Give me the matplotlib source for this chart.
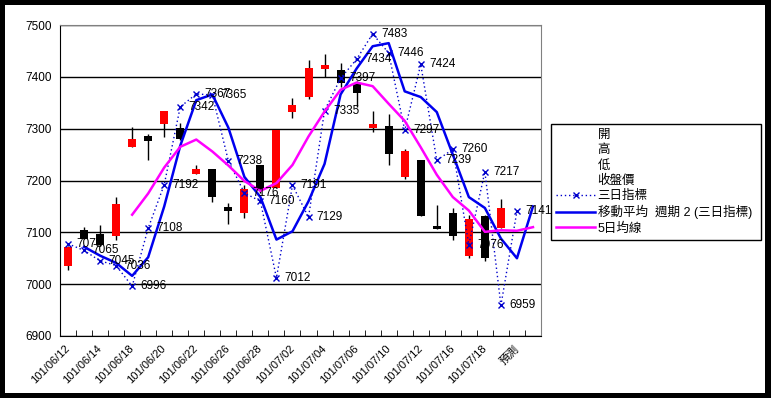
import numpy as np
import matplotlib
matplotlib.use('Agg')
import matplotlib.pyplot as plt
import matplotlib.transforms as mtransforms
from matplotlib.lines import Line2D
from matplotlib.patches import Rectangle

plt.rcParams['font.family'] = ['Liberation Sans', 'Noto Sans CJK TC', 'DejaVu Sans']

# 日期 (30 categories, last two are the forecast slots)
dates = ['101/06/12', '101/06/13', '101/06/14', '101/06/15', '101/06/18', '101/06/19',
         '101/06/20', '101/06/21', '101/06/22', '101/06/25', '101/06/26', '101/06/27',
         '101/06/28', '101/06/29', '101/07/02', '101/07/03', '101/07/04', '101/07/05',
         '101/07/06', '101/07/09', '101/07/10', '101/07/11', '101/07/12', '101/07/13',
         '101/07/16', '101/07/17', '101/07/18', '101/07/19', '預測', '']

# K線 開 高 低 收
opens  = [7036, 7104, 7097, 7093, 7264, 7286, 7309, 7301, 7212, 7222, 7148, 7138, 7230, 7185,
          7333, 7362, 7415, 7413, 7387, 7301, 7305, 7207, 7240, 7113, 7137, 7055, 7132, 7109]
highs  = [7074, 7110, 7114, 7168, 7304, 7290, 7335, 7310, 7230, 7222, 7157, 7191, 7230, 7297,
          7359, 7432, 7444, 7426, 7391, 7334, 7328, 7261, 7240, 7153, 7146, 7133, 7134, 7164]
lows   = [7027, 7088, 7074, 7085, 7264, 7240, 7283, 7279, 7212, 7158, 7117, 7128, 7175, 7185,
          7320, 7357, 7399, 7381, 7341, 7294, 7229, 7203, 7131, 7106, 7085, 7050, 7045, 7109]
closes = [7072, 7088, 7076, 7155, 7281, 7276, 7335, 7281, 7222, 7169, 7141, 7184, 7182, 7297,
          7346, 7418, 7423, 7389, 7369, 7309, 7252, 7257, 7131, 7106, 7092, 7126, 7051, 7147]

# 三日指標 (k0..k28)
idx3 = [7078, 7065, 7045, 7036, 6996, 7108, 7192, 7342, 7367, 7365, 7238, 7176, 7160, 7012,
        7191, 7129, 7335, 7397, 7434, 7483, 7446, 7297, 7424, 7239, 7260, 7076, 7217, 6959, 7141]

# 移動平均 週期 2 (k1..k29)
ma2 = [7072, 7055, 7041, 7016, 7052, 7150, 7267, 7355, 7366, 7302, 7207, 7168, 7086, 7102,
       7160, 7232, 7366, 7416, 7459, 7465, 7372, 7361, 7332, 7250, 7168, 7147, 7088, 7050, 7150]

# 5日均線 (k4..k29)
ma5 = [7134, 7175, 7225, 7265, 7279, 7256, 7229, 7199, 7180, 7195, 7230, 7285, 7333, 7375,
       7389, 7382, 7348, 7315, 7264, 7211, 7168, 7142, 7101, 7104, 7103, 7110]

W, H = 771, 398
fig = plt.figure(figsize=(W / 100, H / 100), dpi=100)
fig.patch.set_facecolor('black')
fig.patches.append(Rectangle((5 / W, 5 / H), 760 / W, 388 / H, transform=fig.transFigure,
                             facecolor='white', edgecolor='none', zorder=-5))

ax = fig.add_axes([60 / W, 62 / H, 481 / W, 311 / H])
ax.set_facecolor('white')

o = np.array(opens)
c = np.array(closes)
xk = np.arange(len(opens))

# wicks then bodies
ax.vlines(xk, lows, highs, color='black', lw=1, zorder=2)
body_col = ['#FF0000' if cc >= oo else 'black' for oo, cc in zip(o, c)]
ax.bar(xk, np.maximum(np.abs(c - o), 1.5), bottom=np.minimum(o, c), width=0.5,
       color=body_col, zorder=3)

x3 = np.arange(len(idx3))
ax.plot(x3, idx3, color='#0000CC', lw=1, linestyle=(0, (1, 2)), marker='x',
        markersize=5, markeredgewidth=1, zorder=4)
ax.plot(np.arange(1, 1 + len(ma2)), ma2, color='#0000EE', lw=1.8, zorder=5)
ax.plot(np.arange(4, 4 + len(ma5)), ma5, color='#FF00FF', lw=1.8, zorder=5)

for i, v in enumerate(idx3):
    ax.annotate(str(v), (i, v), xytext=(6, 0), textcoords='offset points',
                ha='left', va='center', fontsize=8.5, zorder=6)

ax.set_xlim(-0.5, len(dates) - 0.5)
ax.set_ylim(6900, 7500)
ax.set_yticks(range(6900, 7501, 100))
ax.tick_params(axis='y', labelsize=8.5, length=0, pad=6)
ax.yaxis.grid(True, color='black', lw=1)
ax.set_axisbelow(True)

ax.set_xticks(range(0, len(dates), 2))
ax.set_xticklabels(dates[::2], rotation=45, ha='right', va='center',
                   rotation_mode='anchor', fontsize=8)
shift = mtransforms.ScaledTranslation(-5 / 100, 0, fig.dpi_scale_trans)
for lab in ax.get_xticklabels():
    lab.set_transform(lab.get_transform() + shift)
ax.set_xticks(np.arange(-0.5, len(dates), 1), minor=True)
ax.tick_params(axis='x', which='major', length=0, pad=8)
ax.tick_params(axis='x', which='minor', direction='in', length=4)

for s in ['top', 'right']:
    ax.spines[s].set_color('#808080')
for s in ['left', 'bottom']:
    ax.spines[s].set_color('black')

handles = [Line2D([], [], linestyle='none') for _ in range(4)]
handles += [Line2D([], [], color='#0000CC', lw=1, linestyle=(0, (1, 2)), marker='x',
                   markersize=5),
            Line2D([], [], color='#0000EE', lw=1.8),
            Line2D([], [], color='#FF00FF', lw=1.8)]
labels = ['開', '高', '低', '收盤價', '三日指標', '移動平均  週期 2 (三日指標)', '5日均線']
leg = fig.legend(handles, labels, loc='upper left',
                 bbox_to_anchor=(551 / W, 1 - 124 / H, 210 / W, 0), mode='expand',
                 fontsize=9, frameon=True, fancybox=False, edgecolor='black',
                 framealpha=1, borderaxespad=0, handlelength=3.1, handletextpad=0.2,
                 labelspacing=0.25, borderpad=0.42)
leg.get_frame().set_linewidth(1)

fig.savefig('out.png', dpi=100, facecolor=fig.get_facecolor())
